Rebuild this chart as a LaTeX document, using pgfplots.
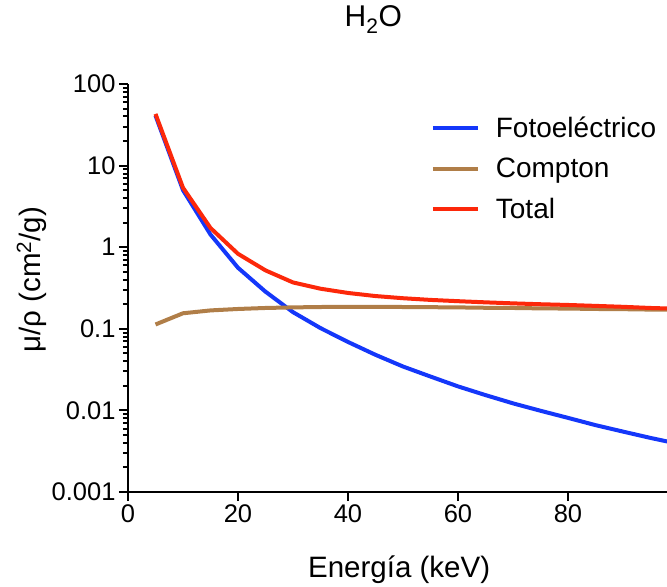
\documentclass[border=0pt]{standalone}
\usepackage{fontspec}
\setmainfont{Liberation Sans}
\usepackage{pgfplots}
\usepackage{pgfplotstable}
\pgfplotsset{compat=1.18}
\definecolor{cblue}{RGB}{20,55,250}
\definecolor{cbrown}{RGB}{176,126,72}
\definecolor{cred}{RGB}{252,40,10}
\pgfplotstableread{
E photo compton total
5 41 0.113 43
10 5.0 0.155 5.35
15 1.43 0.168 1.72
20 0.56 0.175 0.83
25 0.285 0.180 0.52
30 0.16 0.183 0.37
35 0.102 0.185 0.31
40 0.069 0.186 0.275
45 0.048 0.186 0.252
50 0.0345 0.185 0.237
55 0.026 0.184 0.226
60 0.0197 0.183 0.218
65 0.0154 0.181 0.211
70 0.0122 0.180 0.205
75 0.0099 0.178 0.200
80 0.0081 0.177 0.196
85 0.0066 0.175 0.191
90 0.0055 0.174 0.186
95 0.0046 0.172 0.180
100 0.0039 0.171 0.176
}\water
\begin{document}
\begin{tikzpicture}
\begin{axis}[
  name=ax,
  scale only axis, width=539pt, height=408pt,
  xmin=0, xmax=98, ymode=log, ymin=0.001, ymax=100,
  axis x line*=bottom, axis y line*=left,
  axis line style={line width=2.2pt},
  tick align=outside, major tick length=9pt, minor tick length=5pt,
  every tick/.style={black, line width=2pt},
  xtick={0,20,40,60,80},
  ytick={0.001,0.01,0.1,1,10,100},
  yticklabels={0.001,0.01,0.1,1,10,100},
  tick label style={font=\fontsize{25.5}{30}\selectfont},
  /pgf/number format/assume math mode=true,
  xlabel={Energía (keV)},
  ylabel={μ/ρ (cm\textsuperscript{2}/g)},
  label style={font=\fontsize{29.5}{34}\selectfont},
  xlabel style={at={(axis description cs:0.503,0)}, anchor=base, yshift=-85pt},
  ylabel style={at={(axis description cs:-0.163,0.52)}, anchor=base},
  title={H\textsubscript{2}O},
  title style={font=\fontsize{30}{36}\selectfont, at={(axis description cs:0.455,1)}, anchor=base, yshift=51pt},
  legend style={draw=none, fill=none, at={(axis description cs:0.556,0.929)}, anchor=north west,
    font=\fontsize{28}{34}\selectfont, row sep=15pt},
  legend cell align=left,
  legend image code/.code={\draw[#1, line width=4pt] (0pt,0pt) -- (45pt,0pt); \path (59pt,0pt);},
  clip=true,
]
\addplot[cblue, line width=4pt] table[x=E, y=photo] {\water};
\addlegendentry{Fotoeléctrico}
\addplot[cbrown, line width=4pt] table[x=E, y=compton] {\water};
\addlegendentry{Compton}
\addplot[cred, line width=4pt] table[x=E, y=total] {\water};
\addlegendentry{Total}
\end{axis}
\pgfresetboundingbox
\path[use as bounding box] ([shift={(-128pt,-94pt)}]ax.south west) rectangle ([shift={(0pt,84pt)}]ax.north east);
\end{tikzpicture}
\end{document}
